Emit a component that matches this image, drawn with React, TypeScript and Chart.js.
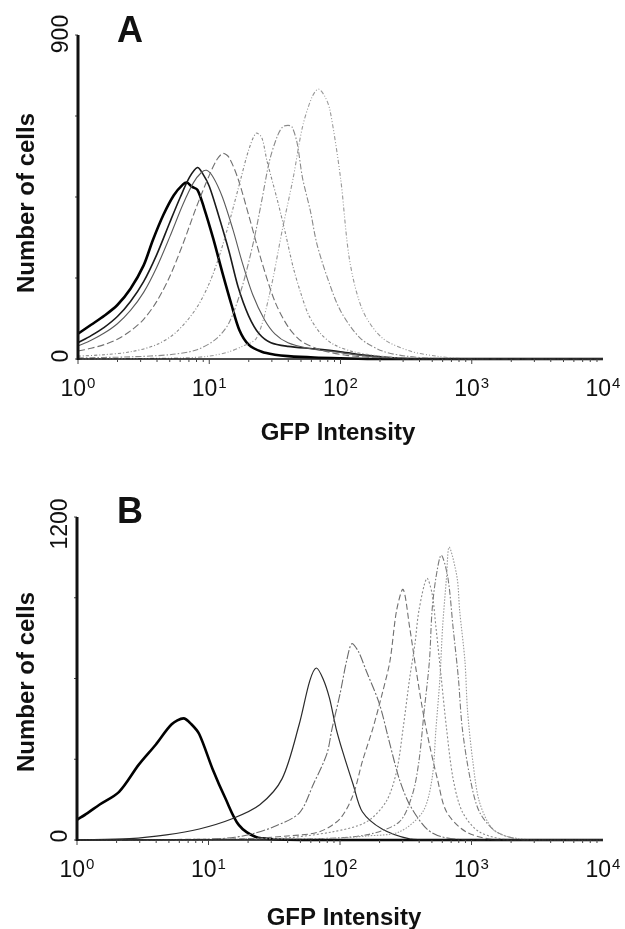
import React, { useEffect, useRef } from "react";
import { Chart, registerables } from "chart.js";
Chart.register(...registerables);

// ---------- axis / tick data ----------
const X_DECADES = [0, 1, 2, 3, 4]; // tick labels 10^k
const A_Y_MAX = 900;
const A_Y_TICKS = [0, 225, 450, 675, 900];
const A_Y_LABELS = ["0", "900"];
const B_Y_MAX = 1200;
const B_Y_TICKS = [0, 300, 600, 900, 1200];
const B_Y_LABELS = ["0", "1200"];
const X_TITLE = "GFP Intensity";
const Y_TITLE = "Number of cells";

// ---------- series: [log10(GFP intensity), number of cells] ----------
// Panel A
const A1 = [[0,70],[0.1,95],[0.2,120],[0.3,150],[0.4,195],[0.5,260],[0.57,330],[0.65,400],[0.73,455],[0.8,485],[0.83,490],[0.87,478],[0.91,470],[0.96,420],[1.03,335],[1.1,240],[1.17,150],[1.23,80],[1.3,40],[1.4,20],[1.5,12],[1.6,8],[1.8,4],[2.0,2],[2.3,0],[4,0]];
const A2 = [[0,45],[0.1,65],[0.2,88],[0.3,118],[0.4,160],[0.5,215],[0.6,290],[0.7,380],[0.78,450],[0.85,505],[0.91,532],[0.95,515],[1.0,480],[1.07,400],[1.15,300],[1.22,200],[1.3,120],[1.38,70],[1.47,45],[1.6,35],[1.8,28],[2.0,20],[2.2,10],[2.4,3],[2.6,0],[4,0]];
const A3 = [[0,36],[0.1,52],[0.2,72],[0.3,98],[0.4,135],[0.5,185],[0.6,255],[0.7,340],[0.8,430],[0.88,490],[0.94,518],[0.98,524],[1.03,505],[1.1,450],[1.18,360],[1.25,270],[1.33,180],[1.42,110],[1.5,70],[1.6,45],[1.75,30],[1.95,20],[2.2,8],[2.5,0],[4,0]];
const A4 = [[0,22],[0.1,30],[0.2,40],[0.3,55],[0.4,78],[0.5,110],[0.6,160],[0.7,230],[0.8,320],[0.9,420],[1.0,510],[1.06,555],[1.105,571],[1.15,560],[1.22,500],[1.3,400],[1.4,270],[1.5,160],[1.6,90],[1.7,50],[1.85,25],[2.05,10],[2.3,3],[2.6,0],[4,0]];
const A5 = [[0,8],[0.2,12],[0.4,20],[0.6,40],[0.75,75],[0.9,140],[1.0,210],[1.08,290],[1.16,390],[1.24,500],[1.3,580],[1.356,627],[1.4,615],[1.44,550],[1.52,440],[1.58,350],[1.64,254],[1.7,180],[1.76,120],[1.85,70],[1.95,40],[2.1,20],[2.3,8],[2.6,0],[4,0]];
const A6 = [[0,3],[0.4,6],[0.7,12],[0.9,25],[1.05,55],[1.15,100],[1.25,200],[1.34,330],[1.4,440],[1.46,552],[1.52,620],[1.56,645],[1.6,649],[1.63,645],[1.67,599],[1.71,504],[1.77,412],[1.82,320],[1.9,226],[2.0,134],[2.15,58],[2.32,22],[2.5,8],[2.7,2],[2.9,0],[4,0]];
const A7 = [[0,0],[0.8,3],[1.0,8],[1.15,20],[1.25,35],[1.36,58],[1.46,181],[1.56,365],[1.64,504],[1.71,644],[1.78,725],[1.83,750],[1.88,730],[1.92,691],[2.0,504],[2.07,273],[2.17,134],[2.32,58],[2.53,22],[2.73,8],[2.9,2],[3.1,0],[4,0]];

// Panel B
const B1 = [[0,75],[0.08,100],[0.17,131],[0.32,179],[0.47,280],[0.6,355],[0.72,430],[0.81,452],[0.87,430],[0.93,393],[1.03,265],[1.13,153],[1.23,56],[1.36,11],[1.5,3],[1.7,0],[4,0]];
const B2 = [[0,0],[0.4,5],[0.68,19],[0.93,41],[1.18,79],[1.39,131],[1.56,228],[1.69,430],[1.77,591],[1.82,639],[1.87,600],[1.92,527],[1.97,415],[2.02,329],[2.1,206],[2.17,105],[2.32,41],[2.53,4],[2.7,0],[4,0]];
const B3 = [[0,0],[1.0,3],[1.2,10],[1.35,25],[1.5,50],[1.69,100],[1.8,210],[1.9,320],[1.94,415],[2.0,542],[2.05,665],[2.09,729],[2.14,700],[2.2,628],[2.3,505],[2.38,355],[2.45,228],[2.53,131],[2.66,41],[2.78,11],[3.0,0],[4,0]];
const B4 = [[0,0],[1.3,5],[1.6,15],[1.84,30],[2.0,79],[2.1,168],[2.17,292],[2.25,415],[2.32,542],[2.38,665],[2.43,852],[2.48,931],[2.53,789],[2.58,628],[2.63,479],[2.68,355],[2.74,228],[2.81,105],[2.96,30],[3.2,0],[4,0]];
const B5 = [[0,0],[1.5,5],[1.94,30],[2.2,67],[2.35,142],[2.43,254],[2.48,415],[2.53,602],[2.57,729],[2.6,852],[2.66,972],[2.7,916],[2.73,789],[2.77,602],[2.81,415],[2.86,228],[2.93,105],[3.06,30],[3.3,0],[4,0]];
const B6 = [[0,0],[1.8,5],[2.2,19],[2.45,67],[2.55,168],[2.6,292],[2.64,479],[2.68,665],[2.7,852],[2.73,976],[2.77,1058],[2.82,976],[2.86,789],[2.9,602],[2.93,415],[2.99,228],[3.06,105],[3.19,30],[3.4,0],[4,0]];
const B7 = [[0,0],[1.9,5],[2.2,15],[2.45,30],[2.63,105],[2.7,228],[2.73,415],[2.76,602],[2.78,789],[2.81,976],[2.83,1088],[2.89,976],[2.91,852],[2.95,665],[2.97,479],[3.01,292],[3.06,142],[3.16,41],[3.29,11],[3.5,0],[4,0]];

const FONT = '"Liberation Sans", Arial, Helvetica, sans-serif';

type Style = { color: string; width: number; dash: number[] };
const A_STYLES: Style[] = [
  { color: "#000000", width: 2.6, dash: [] },
  { color: "#1a1a1a", width: 1.6, dash: [] },
  { color: "#5a5a5a", width: 1.1, dash: [] },
  { color: "#707070", width: 1.1, dash: [7, 3] },
  { color: "#8a8a8a", width: 1.1, dash: [3, 2, 1, 2] },
  { color: "#8a8a8a", width: 1.1, dash: [6, 2, 1.5, 2] },
  { color: "#999999", width: 1.1, dash: [4, 2, 1, 2, 1, 2] },
];
const B_STYLES: Style[] = [
  { color: "#000000", width: 2.6, dash: [] },
  { color: "#2a2a2a", width: 1.2, dash: [] },
  { color: "#6a6a6a", width: 1.1, dash: [9, 2, 2, 2] },
  { color: "#707070", width: 1.1, dash: [6, 3] },
  { color: "#8a8a8a", width: 1.1, dash: [2, 2] },
  { color: "#7a7a7a", width: 1.1, dash: [6, 2, 1.5, 2] },
  { color: "#999999", width: 1.1, dash: [1.5, 1.5] },
];

type PanelCfg = {
  letter: string;
  series: number[][][];
  styles: Style[];
  yMax: number;
  yTicks: number[];
  yLabels: string[];
  height: number;
  top: number;
  padding: { left: number; right: number; top: number; bottom: number };
  yLabelTopOff: number;
  yLabelBottomOff: number;
  titleX: number;
  titleOff: number;
  yTitleY: number;
  letterBaseline: number;
};

const PANELS: PanelCfg[] = [
  {
    letter: "A", series: [A1, A2, A3, A4, A5, A6, A7], styles: A_STYLES,
    yMax: A_Y_MAX, yTicks: A_Y_TICKS, yLabels: A_Y_LABELS,
    height: 460, top: 0,
    padding: { left: 78, right: 22, top: 35, bottom: 101 },
    yLabelTopOff: -1, yLabelBottomOff: -3, titleX: 338, titleOff: 81, yTitleY: 203, letterBaseline: 42,
  },
  {
    letter: "B", series: [B1, B2, B3, B4, B5, B6, B7], styles: B_STYLES,
    yMax: B_Y_MAX, yTicks: B_Y_TICKS, yLabels: B_Y_LABELS,
    height: 469, top: 460,
    padding: { left: 77, right: 22, top: 57, bottom: 89 },
    yLabelTopOff: 7, yLabelBottomOff: -4, titleX: 344, titleOff: 85, yTitleY: 222, letterBaseline: 63,
  },
];

function makeAxesPlugin(cfg: PanelCfg) {
  return {
    id: "customAxes" + cfg.letter,
    afterDatasetsDraw(chart: any) {
      const ctx: CanvasRenderingContext2D = chart.ctx;
      const xs = chart.scales.x;
      const ys = chart.scales.y;
      const left = xs.getPixelForValue(1);
      const right = xs.getPixelForValue(10000);
      const bottom = ys.getPixelForValue(0);
      const top = ys.getPixelForValue(cfg.yMax);
      ctx.save();
      // x axis line
      ctx.strokeStyle = "#111";
      ctx.lineWidth = 1.6;
      ctx.setLineDash([]);
      ctx.beginPath();
      ctx.moveTo(left, bottom);
      ctx.lineTo(right, bottom);
      ctx.stroke();
      // x ticks (log)
      ctx.lineWidth = 1;
      ctx.strokeStyle = "#444";
      for (let k = 0; k < 4; k++) {
        for (let m = 1; m <= 9; m++) {
          const v = m * Math.pow(10, k);
          const px = xs.getPixelForValue(v);
          const len = m === 1 ? 5 : 3;
          ctx.beginPath();
          ctx.moveTo(px, bottom);
          ctx.lineTo(px, bottom + len);
          ctx.stroke();
        }
      }
      // y ticks
      for (const t of cfg.yTicks) {
        const py = ys.getPixelForValue(t);
        ctx.beginPath();
        ctx.moveTo(left - 3, py);
        ctx.lineTo(left, py);
        ctx.stroke();
      }
      // y axis line (thick)
      ctx.strokeStyle = "#111";
      ctx.lineWidth = 3;
      ctx.beginPath();
      ctx.moveTo(left, bottom + 1);
      ctx.lineTo(left, top);
      ctx.stroke();

      ctx.fillStyle = "#111";
      // x tick labels 10^k
      for (const k of X_DECADES) {
        const px = xs.getPixelForValue(Math.pow(10, k));
        ctx.font = `23px ${FONT}`;
        const w1 = ctx.measureText("10").width;
        ctx.font = `15px ${FONT}`;
        const w2 = ctx.measureText(String(k)).width;
        const x0 = px - (w1 + w2 + 1) / 2;
        ctx.textAlign = "left";
        ctx.textBaseline = "alphabetic";
        ctx.font = `23px ${FONT}`;
        ctx.fillText("10", x0, bottom + 37);
        ctx.font = `15px ${FONT}`;
        ctx.fillText(String(k), x0 + w1 + 1, bottom + 29);
      }
      // x title
      ctx.font = `bold 24px ${FONT}`;
      ctx.textAlign = "center";
      ctx.fillText(X_TITLE, cfg.titleX, bottom + cfg.titleOff);

      // rotated y labels
      const rot = (text: string, x: number, y: number, font: string) => {
        ctx.save();
        ctx.translate(x, y);
        ctx.rotate(-Math.PI / 2);
        ctx.font = font;
        ctx.textAlign = "center";
        ctx.textBaseline = "alphabetic";
        ctx.fillText(text, 0, 0);
        ctx.restore();
      };
      rot(cfg.yLabels[1], left - 10, top + cfg.yLabelTopOff, `23px ${FONT}`);
      rot(cfg.yLabels[0], left - 10, bottom + cfg.yLabelBottomOff, `23px ${FONT}`);
      rot(Y_TITLE, 34, cfg.yTitleY, `bold 24px ${FONT}`);

      // panel letter
      ctx.font = `bold 36px ${FONT}`;
      ctx.textAlign = "left";
      ctx.fillText(cfg.letter, 117, cfg.letterBaseline);
      ctx.restore();
    },
  };
}

function Panel({ cfg }: { cfg: PanelCfg }) {
  const ref = useRef<HTMLCanvasElement | null>(null);
  useEffect(() => {
    if (!ref.current) return;
    const datasets = cfg.series.map((s, i) => {
      const st = cfg.styles[i];
      return {
        data: s.map(([e, c]) => ({ x: Math.pow(10, e), y: c })),
        borderColor: st.color,
        borderWidth: st.width,
        borderDash: st.dash,
        pointRadius: 0,
        tension: 0.3,
        fill: false,
        clip: false as any,
        order: -i,
      };
    });
    const chart = new Chart(ref.current, {
      type: "line",
      data: { datasets },
      options: {
        animation: false,
        responsive: false,
        events: [],
        layout: { padding: cfg.padding },
        plugins: { legend: { display: false }, tooltip: { enabled: false } },
        scales: {
          x: { type: "logarithmic", min: 1, max: 10000, display: false },
          y: { type: "linear", min: 0, max: cfg.yMax, display: false },
        },
      },
      plugins: [makeAxesPlugin(cfg)],
    } as any);
    return () => chart.destroy();
  }, [cfg]);
  return (
    <canvas
      ref={ref}
      width={625}
      height={cfg.height}
      style={{ position: "absolute", left: 0, top: cfg.top, width: 625, height: cfg.height, display: "block" }}
    />
  );
}

export default function App() {
  return (
    <div style={{ position: "absolute", left: 0, top: 0, width: 625, height: 929, background: "#fff", overflow: "hidden" }}>
      {PANELS.map((p) => (
        <Panel key={p.letter} cfg={p} />
      ))}
    </div>
  );
}
